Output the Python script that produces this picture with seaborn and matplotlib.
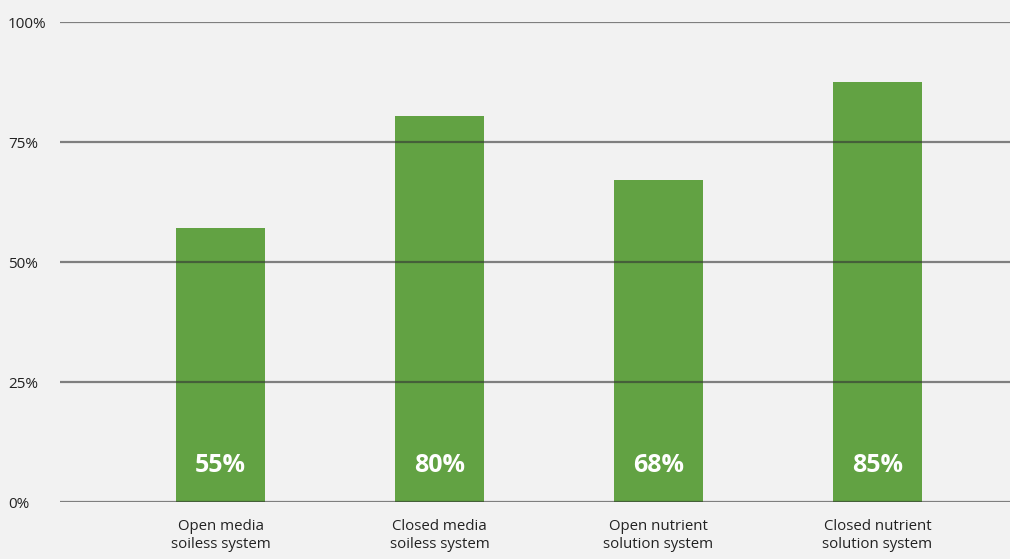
import numpy as np
import pandas as pd
import seaborn as sns
from matplotlib import pyplot as plt

categories = ["Open media\nsoiless system", "Closed media\nsoiless system",
              "Open nutrient\nsolution system", "Closed nutrient\nsolution system"]
heights = [57, 80.5, 67, 87.5]
value_labels = ["55%", "80%", "68%", "85%"]
yticks = [0, 25, 50, 75, 100]
ytick_labels = ["0%", "25%", "50%", "75%", "100%"]

sns.set_style("white")
plt.rcParams['font.family'] = ['Open Sans', 'DejaVu Sans']

bg = "#f2f2f2"
fig = plt.figure(figsize=(10.1, 5.59), dpi=100, facecolor=bg)
rect = [60 / 1010, 57 / 559, 950 / 1010, 480 / 559]
ax = fig.add_axes(rect, facecolor=bg)

df = pd.DataFrame({"category": categories, "value": heights})
sns.barplot(data=df, x="category", y="value", color="#62a243", saturation=1,
            width=0.405, ax=ax, linewidth=0, edgecolor="none", zorder=1)

ax.set_ylim(0, 100)
ax.set_xlim(-0.733, 3.605)

# gridlines sit on top of the bars (darker where they cross the green)
for y in yticks:
    ax.axhline(y, color="#333333", lw=1.6, alpha=0.6, zorder=10,
               solid_capstyle="butt")

for i, lab in enumerate(value_labels):
    ax.text(i, 7.7, lab, ha="center", va="center", color="white",
            fontsize=18, fontweight="bold", zorder=11)

ax.set_yticks(yticks)
ax.set_yticklabels(ytick_labels, fontsize=11, color="#222222")
for t in ax.get_yticklabels():
    t.set_horizontalalignment("left")
ax.tick_params(axis="y", length=0, pad=37.5)
ax.tick_params(axis="x", length=0, pad=12, labelsize=10.8, labelcolor="#222222")
for t in ax.get_xticklabels():
    t.set_linespacing(1.3)
ax.set_xlabel("")
ax.set_ylabel("")
for s in ax.spines.values():
    s.set_visible(False)

plt.savefig("out.png", facecolor=bg)
